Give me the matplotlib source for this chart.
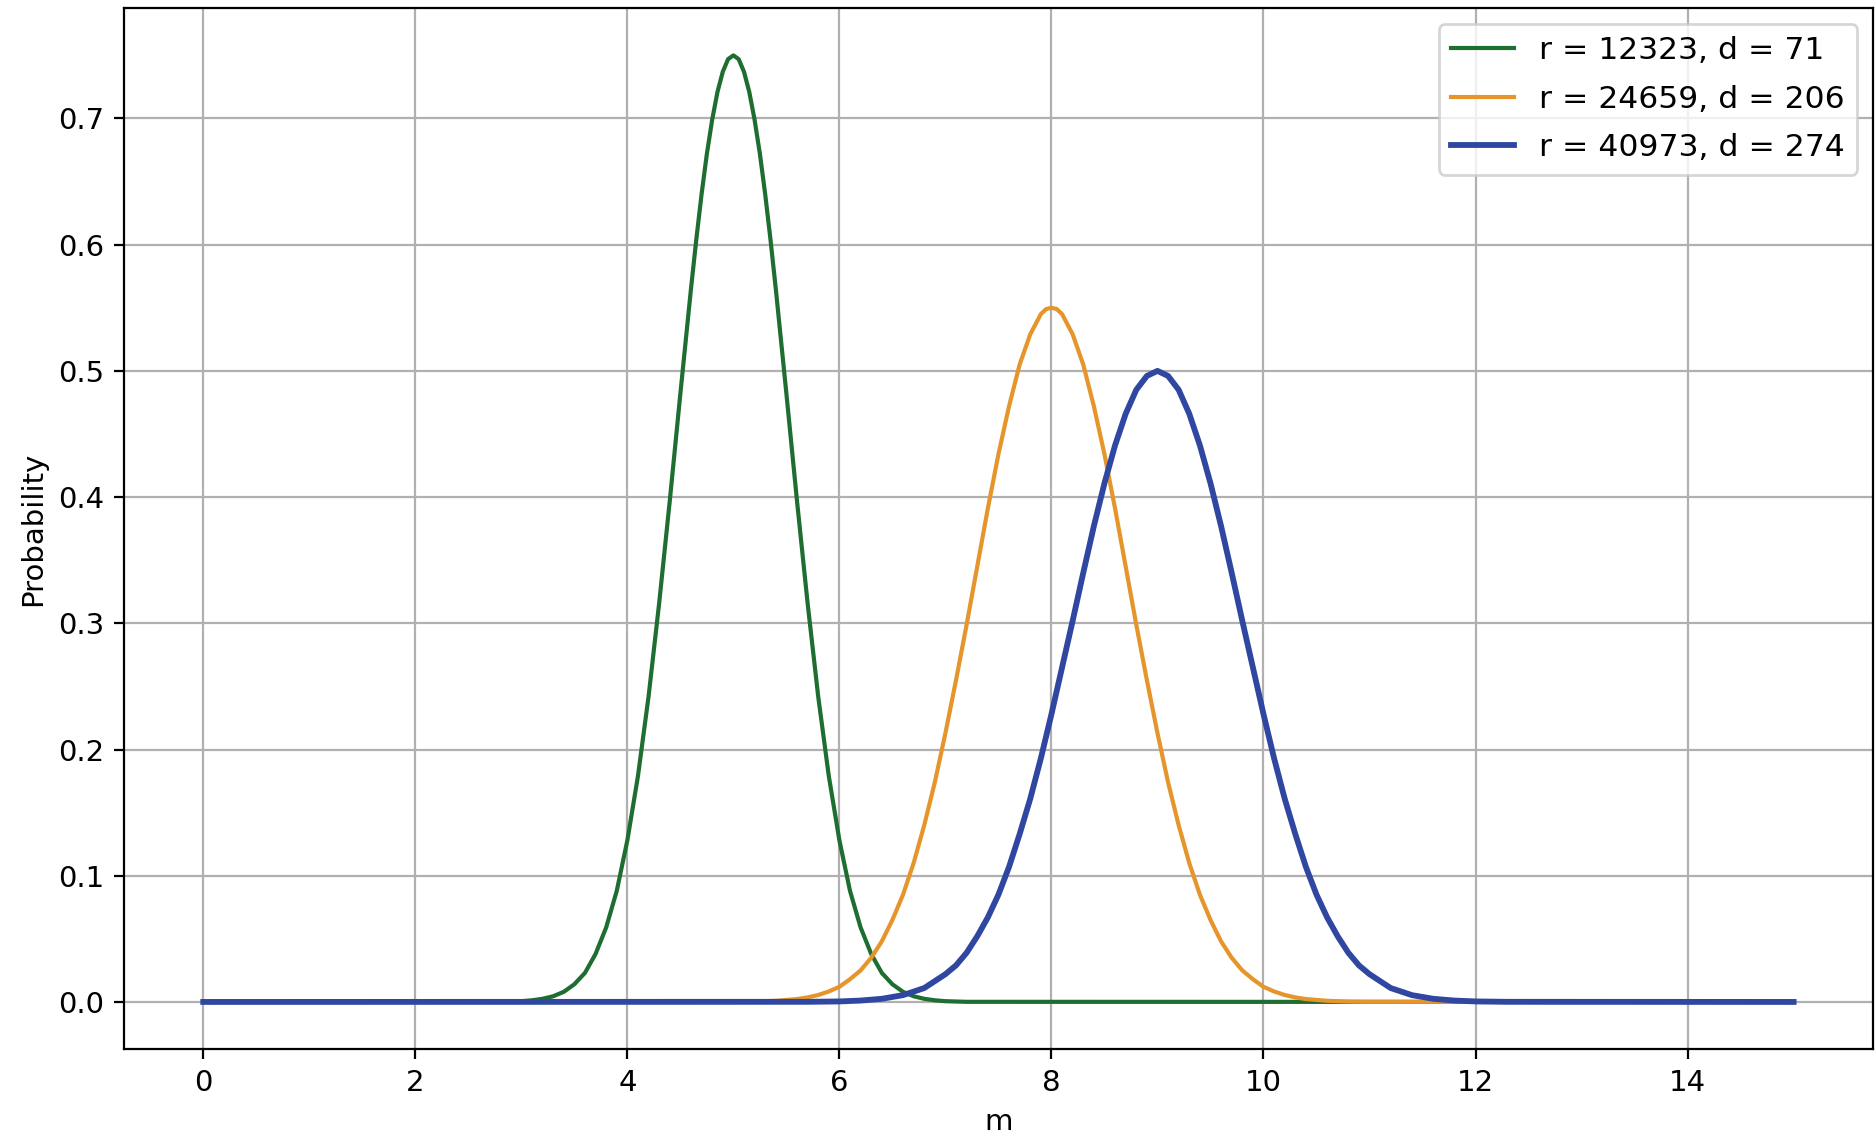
import matplotlib
matplotlib.use("Agg")
import matplotlib.pyplot as plt

# Values
green_m = [0, 2.8, 3.0, 3.1, 3.2, 3.3, 3.4, 3.5, 3.6, 3.7, 3.8, 3.9, 4.0, 4.1, 4.2, 4.3, 4.4, 4.5, 4.6,
           4.65, 4.7, 4.75, 4.8, 4.85, 4.9, 4.95, 5.0, 5.05, 5.1, 5.15, 5.2, 5.25, 5.3, 5.35, 5.4, 5.5,
           5.6, 5.7, 5.8, 5.9, 6.0, 6.1, 6.2, 6.3, 6.4, 6.5, 6.6, 6.7, 6.8, 6.9, 7.0, 7.2, 15]
green_p = [0, 0.0001, 0.0006, 0.0013, 0.0025, 0.0045, 0.008, 0.014, 0.023, 0.038, 0.059, 0.088, 0.128,
           0.179, 0.242, 0.316, 0.397, 0.482, 0.565, 0.604, 0.640, 0.672, 0.699, 0.721, 0.737, 0.747,
           0.750, 0.747, 0.737, 0.721, 0.699, 0.672, 0.640, 0.604, 0.565, 0.482, 0.397, 0.316, 0.242,
           0.179, 0.128, 0.088, 0.059, 0.038, 0.023, 0.014, 0.008, 0.0045, 0.0025, 0.0013, 0.0006,
           0.0001, 0]

orange_m = [0, 5.0, 5.2, 5.4, 5.6, 5.7, 5.8, 5.9, 6.0, 6.1, 6.2, 6.3, 6.4, 6.5, 6.6, 6.7, 6.8, 6.9, 7.0,
            7.1, 7.2, 7.3, 7.4, 7.5, 7.6, 7.7, 7.8, 7.9, 7.95, 8.0, 8.05, 8.1, 8.2, 8.3, 8.4, 8.5, 8.6,
            8.7, 8.8, 8.9, 9.0, 9.1, 9.2, 9.3, 9.4, 9.5, 9.6, 9.7, 9.8, 9.9, 10.0, 10.1, 10.2, 10.3,
            10.4, 10.6, 10.8, 11.0, 15]
orange_p = [0, 0.0001, 0.0003, 0.0009, 0.0023, 0.0036, 0.0055, 0.0083, 0.012, 0.018, 0.025, 0.035,
            0.048, 0.065, 0.085, 0.110, 0.140, 0.174, 0.213, 0.255, 0.299, 0.345, 0.391, 0.434, 0.472,
            0.505, 0.529, 0.545, 0.549, 0.550, 0.549, 0.545, 0.529, 0.505, 0.472, 0.434, 0.391, 0.345,
            0.299, 0.255, 0.213, 0.174, 0.140, 0.110, 0.085, 0.065, 0.048, 0.035, 0.025, 0.018, 0.012,
            0.0083, 0.0055, 0.0036, 0.0023, 0.0009, 0.0003, 0.0001, 0]

blue_m = [0, 5.7, 6.0, 6.2, 6.4, 6.6, 6.8, 7.0, 7.1, 7.2, 7.3, 7.4, 7.5, 7.6, 7.7, 7.8, 7.9, 8.0, 8.1,
          8.2, 8.3, 8.4, 8.5, 8.6, 8.7, 8.8, 8.9, 9.0, 9.1, 9.2, 9.3, 9.4, 9.5, 9.6, 9.7, 9.8, 9.9,
          10.0, 10.1, 10.2, 10.3, 10.4, 10.5, 10.6, 10.7, 10.8, 10.9, 11.0, 11.2, 11.4, 11.6, 11.8,
          12.0, 12.3, 15]
blue_p = [0, 0.0001, 0.0004, 0.0011, 0.0025, 0.0054, 0.011, 0.022, 0.029, 0.039, 0.052, 0.067, 0.085,
          0.107, 0.133, 0.161, 0.193, 0.228, 0.265, 0.302, 0.340, 0.377, 0.411, 0.441, 0.466, 0.485,
          0.496, 0.500, 0.496, 0.485, 0.466, 0.441, 0.411, 0.377, 0.340, 0.302, 0.265, 0.228, 0.193,
          0.161, 0.133, 0.107, 0.085, 0.067, 0.052, 0.039, 0.029, 0.022, 0.011, 0.0054, 0.0025,
          0.0011, 0.0004, 0.0001, 0]

labels = ["r = 12323, d = 71", "r = 24659, d = 206", "r = 40973, d = 274"]

fig, ax = plt.subplots(figsize=(9.375, 5.74), dpi=200)
ax.plot(green_m, green_p, color="#1d6e30", linewidth=1.5, label=labels[0])
ax.plot(orange_m, orange_p, color="#e5952b", linewidth=1.5, label=labels[1])
ax.plot(blue_m, blue_p, color="#2f47a0", linewidth=2.1, label=labels[2])

ax.set_xticks(range(0, 15, 2))
ax.set_xlabel("m", fontsize=10.5)
ax.set_ylabel("Probability", fontsize=10.5)
ax.tick_params(labelsize=10.5)
ax.grid(True, color="#b0b0b0", linewidth=0.8)
ax.legend(loc="upper right", fontsize=11.3, labelspacing=0.62)

plt.subplots_adjust(left=0.066, right=0.999, top=0.993, bottom=0.086)
plt.savefig("out.png")
